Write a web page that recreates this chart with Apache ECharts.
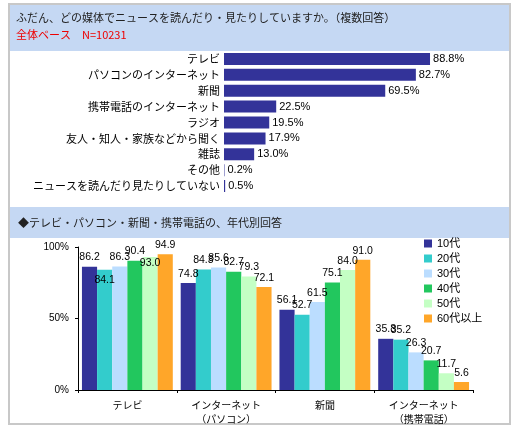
<!DOCTYPE html>
<html>
<head>
<meta charset="utf-8">
<script src="https://cdn.jsdelivr.net/npm/echarts@6/dist/echarts.min.js"></script>
<style>
  html, body { margin: 0; padding: 0; background: #fff; }
  #chart { width: 516px; height: 434px; }
</style>
</head>
<body>
<div id="chart"></div>
<script>
// 全体ベース
var mediaNames = ['テレビ', 'パソコンのインターネット', '新聞', '携帯電話のインターネット', 'ラジオ',
  '友人・知人・家族などから聞く', '雑誌', 'その他', 'ニュースを読んだり見たりしていない'];
var mediaValues = [88.8, 82.7, 69.5, 22.5, 19.5, 17.9, 13.0, 0.2, 0.5];

// 年代別
var groupNames = ['テレビ', 'インターネット\n（パソコン）', '新聞', 'インターネット\n（携帯電話）'];
var ageNames = ['10代', '20代', '30代', '40代', '50代', '60代以上'];
var ageColors = ['#333399', '#33cccc', '#bbddff', '#22c75e', '#c4ffc4', '#ffa629'];
var age10 = [86.2, 74.8, 56.1, 35.8];
var age20 = [84.1, 84.3, 52.7, 35.2];
var age30 = [86.3, 85.6, 61.5, 26.3];
var age40 = [90.4, 82.7, 75.1, 20.7];
var age50 = [93.0, 79.3, 84.0, 11.7];
var age60 = [94.9, 72.1, 91.0, 5.6];
var ageValues = [age10, age20, age30, age40, age50, age60];

var yTicks = [0, 50, 100];

var FONT = '"Liberation Sans", "Noto Sans CJK JP", sans-serif';
var JP = '"Noto Sans CJK JP", sans-serif';

var chart = echarts.init(document.getElementById('chart'));

var ageSeries = ageNames.map(function (name, i) {
  return {
    name: name,
    type: 'bar',
    xAxisIndex: 1,
    yAxisIndex: 1,
    barGap: '0%',
    barCategoryGap: '8%',
    itemStyle: { color: ageColors[i] },
    label: {
      show: true,
      position: 'top',
      distance: 4,
      color: '#000',
      fontSize: 10.5,
      fontFamily: FONT,
      formatter: function (p) { return p.value.toFixed(1); }
    },
    data: ageValues[i].map(function (v, j) {
      // テレビの20代・50代は棒の内側に表示
      if (j === 0 && (i === 1 || i === 4)) {
        return { value: v, label: { position: 'insideTop', distance: i === 1 ? 5 : 1 } };
      }
      return v;
    })
  };
});

var option = {
  animation: false,
  backgroundColor: '#fff',
  textStyle: { fontFamily: FONT },
  graphic: [
    { type: 'rect', shape: { x: 9, y: 4, width: 501, height: 420 },
      style: { fill: '#fff', stroke: '#c8c8c8', lineWidth: 2 }, z: -10 },
    { type: 'rect', shape: { x: 10, y: 5, width: 499, height: 46 },
      style: { fill: '#c5d8f3' }, z: -9 },
    { type: 'rect', shape: { x: 10, y: 207, width: 499, height: 31 },
      style: { fill: '#c5d8f3' }, z: -9 },
    { type: 'text', x: 16, y: 18,
      style: { text: 'ふだん、どの媒体でニュースを読んだり・見たりしていますか。（複数回答）',
        fill: '#222', font: '11px ' + JP, verticalAlign: 'middle' } },
    { type: 'text', x: 16, y: 35,
      style: { text: '全体ベース　N=10231', fill: '#ee0000', font: '11px ' + JP, verticalAlign: 'middle' } },
    { type: 'text', x: 18, y: 223,
      style: { text: '◆テレビ・パソコン・新聞・携帯電話の、年代別回答',
        fill: '#222', font: '11px ' + JP, verticalAlign: 'middle' } }
  ],
  legend: {
    orient: 'vertical',
    left: 419,
    top: 233,
    itemWidth: 8,
    itemHeight: 8,
    itemGap: 4,
    icon: 'rect',
    data: ageNames,
    textStyle: { fontSize: 11, color: '#000', fontFamily: FONT }
  },
  grid: [
    { left: 224, top: 51, width: 232, height: 143 },
    { left: 78, top: 247, width: 395, height: 143 }
  ],
  xAxis: [
    { gridIndex: 0, type: 'value', min: 0, max: 100, show: false },
    {
      gridIndex: 1,
      type: 'category',
      data: groupNames,
      axisLine: { lineStyle: { color: '#000', width: 1 } },
      axisTick: { show: true, length: 3, lineStyle: { color: '#000' } },
      axisLabel: { color: '#000', fontSize: 10, fontFamily: JP, lineHeight: 14, margin: 8 }
    }
  ],
  yAxis: [
    {
      gridIndex: 0,
      type: 'category',
      inverse: true,
      data: mediaNames,
      axisLine: { show: false },
      axisTick: { show: false },
      axisLabel: { color: '#000', fontSize: 11, fontFamily: JP, margin: 4 }
    },
    {
      gridIndex: 1,
      type: 'value',
      min: yTicks[0],
      max: yTicks[yTicks.length - 1],
      interval: yTicks[1] - yTicks[0],
      axisLine: { show: true, lineStyle: { color: '#000', width: 1 } },
      axisTick: { show: true, length: 3, lineStyle: { color: '#000' } },
      splitLine: { show: false },
      axisLabel: { color: '#000', fontSize: 10, margin: 9, formatter: '{value}%' }
    }
  ],
  series: [{
    name: '全体',
    type: 'bar',
    xAxisIndex: 0,
    yAxisIndex: 0,
    barWidth: 12,
    itemStyle: { color: '#333399' },
    label: {
      show: true,
      position: 'right',
      distance: 3,
      color: '#000',
      fontSize: 11,
      fontFamily: FONT,
      formatter: function (p) { return p.value.toFixed(1) + '%'; }
    },
    data: mediaValues
  }].concat(ageSeries)
};

chart.setOption(option);
</script>
</body>
</html>
